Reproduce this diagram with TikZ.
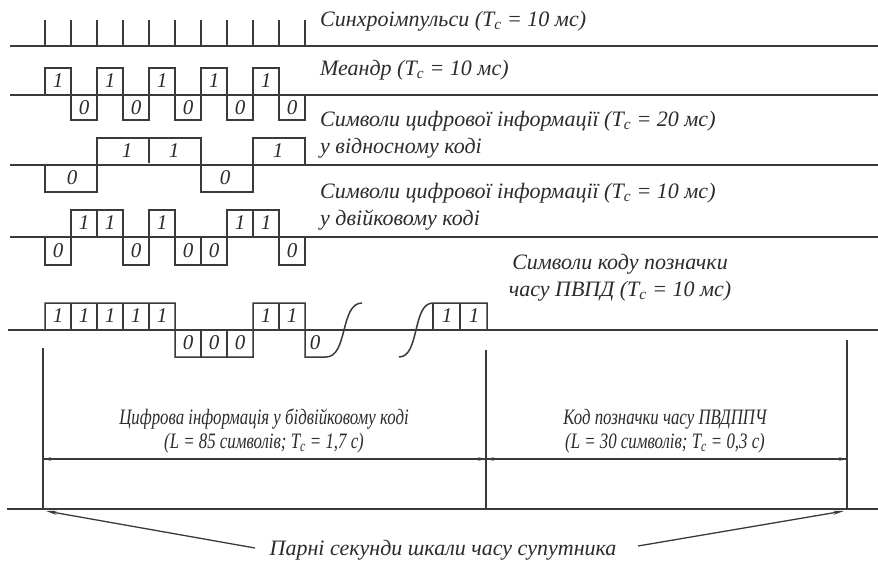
\documentclass[tikz,border=0pt]{standalone}
\usepackage{fontspec}
\usepackage{graphicx}
\setmainfont{Liberation Serif}
\usetikzlibrary{arrows.meta}
\definecolor{ink}{HTML}{3A3A3A}
\definecolor{txt}{HTML}{2C2C2C}
\newcommand{\narrowtext}[1]{\scalebox{0.765}[1]{#1}}
\begin{document}
\begin{tikzpicture}[x=1pt,y=-1pt,
  wave/.style={draw=ink, line width=1.5pt, line join=miter},
  baseln/.style={draw=ink, line width=1.4pt},
  pulse/.style={draw=ink, line width=1.4pt},
  lbl/.style={text=txt, font=\fontsize{22}{27}\selectfont\itshape, inner sep=0pt, anchor=west, align=left},
  lblc/.style={text=txt, font=\fontsize{22}{27}\selectfont\itshape, inner sep=0pt, align=center},
  captxt/.style={text=txt, font=\fontsize{22}{23.5}\selectfont\itshape, inner sep=0pt, align=center},
  bit/.style={text=txt, font=\fontsize{21}{21}\selectfont\itshape, inner sep=0pt},
  spanarrow/.style={draw=ink, line width=1.2pt, {Stealth[length=8pt,width=3.5pt]}-{Stealth[length=8pt,width=3.5pt]}},
  pointer/.style={draw=ink, line width=1.3pt, -{Stealth[length=11pt,width=4pt]}}
]
\useasboundingbox[fill=white] (0,0) rectangle (878,573);

% ---- baselines of the five signal rows and the bottom line
\draw[baseln] (10,46) -- (878,46);
\draw[baseln] (10,95) -- (878,95);
\draw[baseln] (10,165) -- (878,165);
\draw[baseln] (10,237) -- (878,237);
\draw[baseln] (8,330) -- (878,330);
\draw[baseln] (7,509) -- (878,509);

% ---- row 1: sync pulses
\foreach \i in {0,...,10} \draw[pulse] (45+26*\i,20) -- (45+26*\i,46);
\node[lbl] (l1) at (320,21) {Синхроімпульси (\textit{T}\textsubscript{c} = 10 мс)};

% ---- row 2: meander
\foreach \i in {0,...,4} {
  \draw[wave] (45+52*\i,95) -- ++(0,-27) -- ++(26,0) -- ++(0,52) -- ++(26,0) -- ++(0,-25);
  \node[bit] (m1\i) at (58+52*\i,81) {1};
  \node[bit] (m0\i) at (84+52*\i,108) {0};
}
\node[lbl] (l2) at (320,70) {Меандр (\textit{T}\textsubscript{c} = 10 мс)};

% ---- row 3: relative code
\draw[wave] (45,165) -- (45,192) -- (97,192) -- (97,138) -- (201,138) -- (201,192)
  -- (253,192) -- (253,138) -- (305,138) -- (305,165);
\draw[wave] (149,138) -- (149,163);
\node[bit] (r1) at (72,178) {0};
\node[bit] (r2) at (127,151) {1};
\node[bit] (r3) at (174,151) {1};
\node[bit] (r4) at (225,178) {0};
\node[bit] (r5) at (278,151) {1};
\node[lbl] (l3) at (320,135) {Символи цифрової інформації (\textit{T}\textsubscript{c} = 20 мс)\\у відносному коді};

% ---- row 4: binary code
\draw[wave] (45,237) -- (45,265) -- (71,265) -- (71,210) -- (123,210) -- (123,265)
  -- (149,265) -- (149,210) -- (175,210) -- (175,265) -- (227,265) -- (227,210)
  -- (279,210) -- (279,265) -- (305,265) -- (305,237);
\draw[wave] (97,210) -- (97,237);
\draw[wave] (201,265) -- (201,237);
\draw[wave] (253,210) -- (253,237);
\foreach \x [count=\k] in {84,110,162,240,266} \node[bit] (b1\k) at (\x,223) {1};
\foreach \x [count=\k] in {58,136,188,214,292} \node[bit] (b0\k) at (\x,251) {0};
\node[lbl] (l4) at (320,207) {Символи цифрової інформації (\textit{T}\textsubscript{c} = 10 мс)\\у двійковому коді};

% ---- row 5: time mark code
\draw[wave] (45,330) -- (45,303) -- (175,303) -- (175,357) -- (253,357) -- (253,303)
  -- (305,303) -- (305,357) -- (326,357) .. controls (348,357) and (340,303) .. (362,303);
\foreach \x in {71,97,123,149,279} \draw[wave] (\x,303) -- (\x,330);
\foreach \x in {201,227} \draw[wave] (\x,357) -- (\x,330);
\draw[wave] (399,357) .. controls (420,357) and (412,303) .. (433,303) -- (487,303) -- (487,330);
\foreach \x in {433,460} \draw[wave] (\x,303) -- (\x,330);
\foreach \x [count=\k] in {58,84,110,136,162,266,292,447,474} \node[bit] (p1\k) at (\x,316) {1};
\foreach \x [count=\k] in {188,214,240,315} \node[bit] (p0\k) at (\x,343) {0};
\node[lblc] (l5) at (620,278) {Символи коду позначки\\часу ПВПД (\textit{T}\textsubscript{c} = 10 мс)};

% ---- frame of the one-second span
\coordinate (aL) at (43,459);
\coordinate (aM) at (486,459);
\coordinate (aR) at (847,459);
\coordinate (sL) at (43,509);
\coordinate (sR) at (847,509);
\draw[baseln] (43,348) -- (sL);
\draw[baseln] (486,350) -- (486,509);
\draw[baseln] (847,340) -- (sR);
\draw[baseln] (aL) -- (aR);
\draw[spanarrow] (aL) -- (aM);
\draw[spanarrow] (aM) -- (aR);

\node[captxt] (c1) at (264,431) {\narrowtext{Цифрова інформація у бідвійковому коді}\\\narrowtext{(\textit{L} = 85 символів; \textit{T}\textsubscript{c} = 1,7 с)}};
\node[captxt] (c2) at (665,431) {\narrowtext{Код позначки часу ПВДППЧ}\\\narrowtext{(\textit{L} = 30 символів; \textit{T}\textsubscript{c} = 0,3 с)}};

% ---- even seconds of the satellite time scale
\node[lblc] (ev) at (443,550) {Парні секунди шкали часу супутника};
\coordinate (eL) at (255,548);
\coordinate (eR) at (638,546);
\draw[pointer] (eL) -- ([shift={(3,2)}]sL);
\draw[pointer] (eR) -- ([shift={(-3,2)}]sR);
\end{tikzpicture}
\end{document}
